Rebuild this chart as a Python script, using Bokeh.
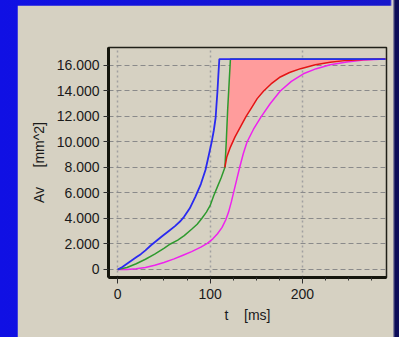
from bokeh.plotting import figure
from bokeh.layouts import column
from bokeh.models import FixedTicker
from bokeh.embed import file_html
from bokeh.resources import INLINE

# ---- data ----
t_blue = [0, 5, 10, 15, 20, 25, 30, 36, 42, 48, 55, 62, 68, 72, 78, 84, 90, 95, 99, 102, 104, 106, 107, 108, 109, 110, 290]
av_blue = [0, 200, 450, 700, 950, 1200, 1500, 1900, 2250, 2600, 3000, 3400, 3800, 4150, 4800, 5700, 6700, 7800, 9100,
           10100, 10900, 11900, 13000, 14000, 15300, 16500, 16500]

t_green = [0, 10, 20, 30, 40, 50, 57, 65, 72, 80, 86, 91, 96, 100, 104, 108, 112, 116, 117.5, 119, 120.5, 122, 290]
av_green = [0, 150, 450, 800, 1200, 1650, 2000, 2300, 2650, 3150, 3550, 4000, 4500, 5000, 5800, 6500, 7200, 8000,
            10000, 12500, 14500, 16500, 16500]

t_red = [116, 118, 122, 127, 133, 139, 145, 151, 158, 166, 176, 186, 198, 214, 230, 248, 266, 290]
av_red = [8000, 8800, 9600, 10400, 11200, 12000, 12700, 13400, 14000, 14550, 15100, 15450, 15750, 16050, 16260,
          16400, 16470, 16500]

t_magenta = [0, 10, 20, 30, 40, 50, 61, 70, 80, 90, 97, 103, 108, 113, 117, 120, 123, 126, 129, 132, 136, 140,
             147, 155, 165, 176, 188, 201, 215, 230, 248, 266, 290]
av_magenta = [0, 0, 50, 150, 330, 550, 830, 1100, 1400, 1750, 2050, 2400, 2800, 3300, 3900, 4500, 5300, 6200, 7100,
              8000, 9100, 10000, 11000, 11950, 13000, 14000, 14750, 15350, 15750, 16050, 16280, 16420, 16500]

x_ticks = [0, 100, 200]
x_minor_ticks = [25, 50, 75, 125, 150, 175, 225, 250, 275]
y_ticks = [0, 2000, 4000, 6000, 8000, 10000, 12000, 14000, 16000]
y_tick_labels = ["0", "2.000", "4.000", "6.000", "8.000", "10.000", "12.000", "14.000", "16.000"]

x_label = "t\u00a0\u00a0\u00a0\u00a0[ms]"
y_label = "Av\u00a0\u00a0\u00a0\u00a0\u00a0[mm^2]"

# ---- styling ----
BEIGE = "#d6d1c2"
FONT = "Liberation Sans"
FS = "14px"

p = figure(width=376, height=332, x_range=(-10, 291), y_range=(-630, 17410),
           output_backend="svg", toolbar_location=None,
           min_border_left=91, min_border_top=42, min_border_right=7, min_border_bottom=60,
           background_fill_color=BEIGE, border_fill_color=BEIGE)

# fill between red curve and upper boundary (green steep edge + plateau)
fill_x = t_red + [t for t in reversed(t_green) if t >= t_red[0]]
fill_y = av_red + [a for t, a in zip(reversed(t_green), reversed(av_green)) if t >= t_red[0]]
p.patch(fill_x, fill_y, fill_color="#ff9c9c", line_color=None)

p.line(t_magenta, av_magenta, line_color="#ee22ee", line_width=1.5)
p.line(t_green, av_green, line_color="#2e9a2e", line_width=1.5)
p.line(t_red, av_red, line_color="#e41414", line_width=1.5)
p.line(t_blue, av_blue, line_color="#2a2af0", line_width=1.8)

# axes
p.xaxis.ticker = FixedTicker(ticks=x_ticks, minor_ticks=x_minor_ticks)
p.yaxis.ticker = FixedTicker(ticks=y_ticks)
p.yaxis.major_label_overrides = {v: s for v, s in zip(y_ticks, y_tick_labels)}
p.xaxis.axis_label = x_label
p.yaxis.axis_label = y_label

for ax in (p.xaxis, p.yaxis):
    ax.axis_line_width = 3
    ax.axis_line_color = "#15150c"
    ax.major_tick_line_color = "#303030"
    ax.minor_tick_line_color = "#303030"
    ax.major_tick_in = 0
    ax.minor_tick_in = 0
    ax.major_label_text_font = FONT
    ax.major_label_text_font_size = FS
    ax.major_label_text_color = "#1a1a1a"
    ax.axis_label_text_font = FONT
    ax.axis_label_text_font_size = FS
    ax.axis_label_text_font_style = "normal"
    ax.axis_label_text_color = "#1a1a1a"

p.xaxis.major_tick_out = 6
p.xaxis.minor_tick_out = 3
p.xaxis.major_label_standoff = 5
p.xaxis.axis_label_standoff = 5
p.yaxis.major_tick_out = 5
p.yaxis.minor_tick_out = 0
p.yaxis.major_label_standoff = 4
p.yaxis.axis_label_standoff = 7

p.ygrid.grid_line_color = "#8a8a8a"
p.ygrid.grid_line_dash = "5 3"
p.ygrid.grid_line_width = 1
p.xgrid.grid_line_color = "#a0a0a0"
p.xgrid.grid_line_dash = "2 3"
p.xgrid.grid_line_width = 1.5

p.outline_line_color = "#202018"
p.outline_line_width = 1.5
p.margin = (5, 6, 0, 17)

layout = column(p, width=399, height=337, styles={
    "background": "linear-gradient(90deg, #1010e4 0%, #1616cc 97.8%, #e8e4d8 98.3%, #0c0c58 99%)"})

open("out.html", "w").write(file_html(layout, INLINE))
